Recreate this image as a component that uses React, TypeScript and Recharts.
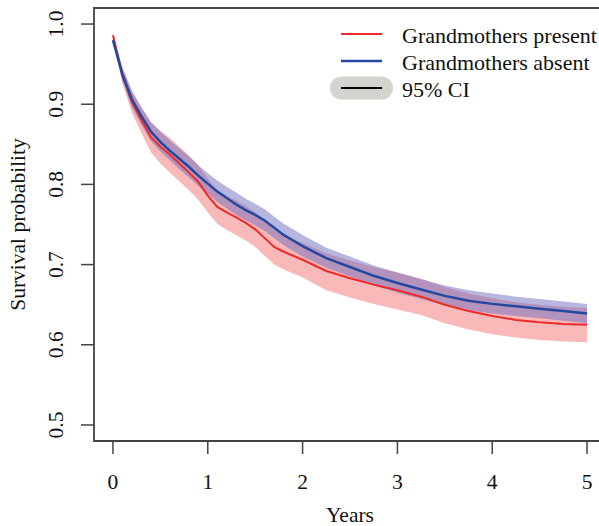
import React from 'react';
import { ComposedChart, Line, Area, XAxis, YAxis, ReferenceArea, Legend } from 'recharts';

const years = [0, 0.1, 0.2, 0.3, 0.4, 0.5, 0.6, 0.7, 0.8, 0.9, 1.0, 1.1, 1.2, 1.3, 1.4, 1.5, 1.6, 1.7, 1.8, 1.9, 2.0,
  2.25, 2.5, 2.75, 3.0, 3.25, 3.5, 3.75, 4.0, 4.25, 4.5, 4.75, 5.0];

const present = [0.986, 0.936, 0.903, 0.880, 0.859, 0.847, 0.837, 0.826, 0.815, 0.803, 0.786, 0.772, 0.765, 0.759, 0.752, 0.744, 0.733, 0.722, 0.716, 0.711, 0.706,
  0.692, 0.683, 0.675, 0.668, 0.660, 0.650, 0.642, 0.636, 0.631, 0.628, 0.626, 0.625];
const presentLo = [0.982, 0.926, 0.889, 0.864, 0.840, 0.826, 0.815, 0.804, 0.793, 0.781, 0.765, 0.751, 0.743, 0.737, 0.730, 0.722, 0.711, 0.700, 0.694, 0.689, 0.684,
  0.668, 0.659, 0.651, 0.644, 0.637, 0.627, 0.619, 0.613, 0.609, 0.606, 0.604, 0.603];
const presentHi = [0.990, 0.946, 0.917, 0.896, 0.877, 0.867, 0.858, 0.847, 0.836, 0.824, 0.807, 0.793, 0.786, 0.780, 0.773, 0.765, 0.754, 0.743, 0.737, 0.732, 0.727,
  0.714, 0.705, 0.697, 0.690, 0.682, 0.672, 0.664, 0.658, 0.653, 0.650, 0.647, 0.646];

const absent = [0.980, 0.937, 0.906, 0.885, 0.866, 0.853, 0.842, 0.832, 0.822, 0.811, 0.801, 0.791, 0.783, 0.775, 0.768, 0.762, 0.755, 0.746, 0.737, 0.730, 0.723,
  0.708, 0.697, 0.686, 0.677, 0.669, 0.661, 0.655, 0.651, 0.648, 0.645, 0.642, 0.639];
const absentLo = [0.976, 0.929, 0.896, 0.874, 0.854, 0.841, 0.830, 0.819, 0.809, 0.798, 0.788, 0.778, 0.770, 0.762, 0.755, 0.749, 0.742, 0.733, 0.724, 0.717, 0.710,
  0.696, 0.685, 0.674, 0.665, 0.657, 0.649, 0.643, 0.639, 0.636, 0.633, 0.630, 0.627];
const absentHi = [0.984, 0.945, 0.916, 0.896, 0.878, 0.866, 0.855, 0.845, 0.835, 0.824, 0.814, 0.805, 0.797, 0.790, 0.782, 0.776, 0.769, 0.760, 0.751, 0.744, 0.737,
  0.721, 0.710, 0.699, 0.690, 0.682, 0.674, 0.668, 0.664, 0.660, 0.657, 0.654, 0.651];

const xTicks = [0, 1, 2, 3, 4, 5];
const yTicks = [0.5, 0.6, 0.7, 0.8, 0.9, 1.0];
const yTickLabels = ['0.5', '0.6', '0.7', '0.8', '0.9', '1.0'];
const legendLabels = ['Grandmothers present', 'Grandmothers absent', '95% CI'];
const xTitle = 'Years';
const yTitle = 'Survival probability';

const data = years.map((t, i) => ({
  t,
  present: present[i],
  absent: absent[i],
  presentCI: [presentLo[i], presentHi[i]],
  absentCI: [absentLo[i], absentHi[i]],
}));

const FONT = '"Liberation Serif", "DejaVu Serif", serif';
const RED = '#ee2b2b';
const BLUE = '#2448a2';
const AXIS = '#444444';

const YTick = (props: any) => {
  const { x, y, payload } = props;
  const idx = yTicks.indexOf(payload.value);
  const label = idx >= 0 ? yTickLabels[idx] : String(payload.value);
  return (
    <text x={x} y={y} transform={`rotate(-90, ${x}, ${y})`} textAnchor="middle"
      fontFamily={FONT} fontSize={21.5} fill="#111">{label}</text>
  );
};

const XTick = (props: any) => {
  const { x, y, payload } = props;
  return (
    <text x={x} y={y} textAnchor="middle" fontFamily={FONT} fontSize={21.5} fill="#111">{String(payload.value)}</text>
  );
};

const LegendBox = () => (
  <svg width={599} height={110} style={{ display: 'block' }}>
    <line x1={341} x2={382} y1={34} y2={34} stroke={RED} strokeWidth={2} />
    <line x1={341} x2={382} y1={61} y2={61} stroke={BLUE} strokeWidth={2.5} />
    <rect x={330} y={76.5} width={63} height={23} rx={11.5} ry={11.5} fill="#d4d4cf" />
    <line x1={341} x2={382} y1={88} y2={88} stroke="#000" strokeWidth={2} />
    <text x={402} y={43} fontFamily={FONT} fontSize={22} fill="#111">{legendLabels[0]}</text>
    <text x={402} y={70} fontFamily={FONT} fontSize={22} fill="#111">{legendLabels[1]}</text>
    <text x={402} y={97} fontFamily={FONT} fontSize={22} fill="#111">{legendLabels[2]}</text>
  </svg>
);

export default function App() {
  return (
    <div style={{ position: 'absolute', left: 0, top: 0, width: 599, height: 526, overflow: 'hidden', background: '#fff' }}>
      <ComposedChart width={620} height={526} data={data} margin={{ top: 8, right: 14, bottom: 0, left: 0 }}>
        <XAxis dataKey="t" type="number" domain={[-0.2, 5.2]} ticks={xTicks} allowDataOverflow
          height={85} axisLine={false} tickSize={13} tickMargin={35}
          tickLine={{ stroke: AXIS, strokeWidth: 1.5 }} tick={<XTick />} interval={0}
          label={{ content: (p: any) => {
            const vb = p.viewBox || { x: 94, width: 512 };
            return <text x={vb.x + vb.width / 2} y={522} textAnchor="middle" fontFamily={FONT} fontSize={21.5} fill="#111">{xTitle}</text>;
          } }} />
        <YAxis type="number" domain={[0.48, 1.02]} ticks={yTicks} allowDataOverflow width={94}
          axisLine={false} tickSize={13} tickMargin={18}
          tickLine={{ stroke: AXIS, strokeWidth: 1.5 }} tick={<YTick />} interval={0}
          label={{ content: (p: any) => {
            const vb = p.viewBox || { y: 8, height: 433 };
            const cy = vb.y + vb.height / 2;
            return <text x={25} y={cy} transform={`rotate(-90, 25, ${cy})`} textAnchor="middle" fontFamily={FONT} fontSize={21.5} fill="#111">{yTitle}</text>;
          } }} />
        <Area dataKey="presentCI" type="linear" stroke="none" fill="rgb(240,80,80)" fillOpacity={0.4} isAnimationActive={false} />
        <Area dataKey="absentCI" type="linear" stroke="none" fill="rgb(109,109,189)" fillOpacity={0.5} isAnimationActive={false} />
        <Line dataKey="present" type="linear" stroke={RED} strokeWidth={2} dot={false} isAnimationActive={false} />
        <Line dataKey="absent" type="linear" stroke={BLUE} strokeWidth={2.5} dot={false} isAnimationActive={false} />
        <ReferenceArea x1={-0.2} x2={5.2} y1={0.48} y2={1.02} fill="none" stroke={AXIS} strokeWidth={1.8} ifOverflow="visible" />
        <Legend verticalAlign="middle" layout="horizontal" content={() => <LegendBox />}
          wrapperStyle={{ position: 'absolute', left: 0, top: 0, width: 599, height: 110 }} />
      </ComposedChart>
    </div>
  );
}
